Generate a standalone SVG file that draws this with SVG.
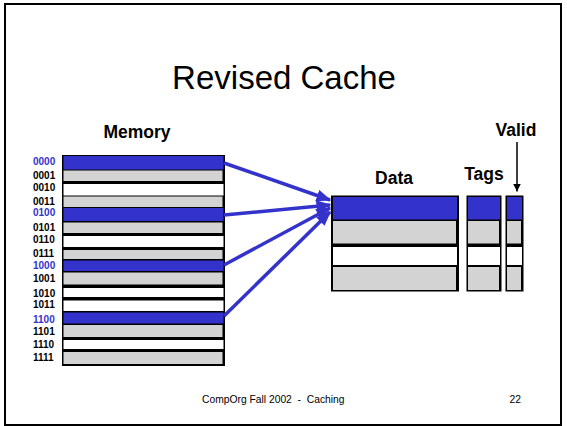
<svg xmlns="http://www.w3.org/2000/svg" width="567" height="426" viewBox="0 0 567 426">
<style>
.t{font-family:"Liberation Sans",Arial,sans-serif;fill:#000}
.lbl{font-family:"Liberation Sans",Arial,sans-serif;font-weight:bold;font-size:10px;fill:#000}
.lb{fill:#3333cc}
.hd{font-family:"Liberation Sans",Arial,sans-serif;font-weight:bold;font-size:17.5px;text-anchor:middle}
.bl{fill:#3333cc}.gr{fill:#d3d3d3}.wh{fill:#fff}
.arr{stroke:#3333cc;stroke-width:3.5;fill:none;marker-end:url(#ah)}
</style>
<defs>
<marker id="ah" viewBox="0 0 10 8" refX="9" refY="4" markerWidth="4.3" markerHeight="3.6" orient="auto"><path d="M0,0 L10,4 L0,8 z" fill="#3333cc"/></marker>
<marker id="ak" viewBox="0 0 10 10" refX="10" refY="5" markerWidth="8" markerHeight="8" markerUnits="userSpaceOnUse" orient="auto"><path d="M0,0 L10,5 L0,10 z" fill="#000"/></marker>
</defs>
<rect width="567" height="426" fill="#fff"/>
<rect x="5" y="4" width="556" height="421" fill="none" stroke="#000" stroke-width="2"/>
<text class="t" x="284" y="89" font-size="33" text-anchor="middle">Revised Cache</text>
<g id="memory">
<text class="hd" x="137" y="138">Memory</text>
<rect x="62" y="155" width="163" height="211" fill="#000"/>
<rect class="bl" x="63.5" y="156" width="160" height="13.5"/>
<rect class="gr" x="63.5" y="170.5" width="159" height="10.5"/>
<rect class="wh" x="63.5" y="184" width="160" height="11.5"/>
<rect class="gr" x="63.5" y="196.5" width="159" height="10.5"/>
<rect class="bl" x="63.5" y="208" width="160" height="13"/>
<rect class="gr" x="63.5" y="222.5" width="159" height="10.5"/>
<rect class="wh" x="63.5" y="236" width="160" height="11"/>
<rect class="gr" x="63.5" y="250" width="159" height="9"/>
<rect class="bl" x="63.5" y="260.5" width="160" height="10.5"/>
<rect class="gr" x="63.5" y="272.5" width="159" height="12"/>
<rect class="wh" x="63.5" y="288" width="160" height="9"/>
<rect class="wh" x="63.5" y="300.5" width="160" height="10.5"/>
<rect class="bl" x="63.5" y="312.5" width="160" height="11"/>
<rect class="gr" x="63.5" y="325" width="159" height="12"/>
<rect class="wh" x="63.5" y="340" width="160" height="9"/>
<rect class="gr" x="63.5" y="352" width="159" height="12"/>
<text class="lbl lb" x="33" y="164.8">0000</text>
<text class="lbl" x="33" y="178.5">0001</text>
<text class="lbl" x="33" y="190.5">0010</text>
<text class="lbl" x="33" y="204.5">0011</text>
<text class="lbl lb" x="33" y="216.2">0100</text>
<text class="lbl" x="33" y="230.5">0101</text>
<text class="lbl" x="33" y="242.5">0110</text>
<text class="lbl" x="33" y="256.5">0111</text>
<text class="lbl lb" x="33" y="268.8">1000</text>
<text class="lbl" x="33" y="281.8">1001</text>
<text class="lbl" x="33" y="296.5">1010</text>
<text class="lbl" x="33" y="308.2">1011</text>
<text class="lbl lb" x="33" y="322.5">1100</text>
<text class="lbl" x="33" y="334.8">1101</text>
<text class="lbl" x="33" y="348.2">1110</text>
<text class="lbl" x="33" y="360.5">1111</text>
</g>
<g id="data">
<text class="hd" x="394" y="183.5">Data</text>
<rect x="331" y="195.5" width="128" height="96" fill="#000"/>
<rect class="bl" x="333" y="197" width="124" height="22.5"/>
<rect class="gr" x="333" y="221" width="123" height="22.5"/>
<rect class="wh" x="333" y="247" width="124" height="18"/>
<rect class="gr" x="333" y="267" width="123" height="23"/>
</g>
<g id="tags">
<text class="hd" x="484" y="179.5">Tags</text>
<rect x="466.5" y="195.5" width="35" height="96" fill="#000"/>
<rect class="bl" x="468" y="197" width="32" height="22.5"/>
<rect class="gr" x="468" y="221" width="31" height="22.5"/>
<rect class="wh" x="468" y="247" width="32" height="18"/>
<rect class="gr" x="468" y="267" width="31" height="23"/>
</g>
<g id="valid">
<text class="hd" x="516" y="136">Valid</text>
<rect x="505.5" y="195.5" width="18" height="96" fill="#000"/>
<rect class="bl" x="507" y="197" width="15" height="22.5"/>
<rect class="gr" x="507" y="221" width="14" height="22.5"/>
<rect class="wh" x="507" y="247" width="15" height="18"/>
<rect class="gr" x="507" y="267" width="14" height="23"/>
</g>
<g id="connectors">
<line class="arr" x1="224" y1="163" x2="330" y2="200"/>
<line class="arr" x1="224" y1="215" x2="330" y2="205"/>
<line class="arr" x1="224" y1="265" x2="330" y2="208"/>
<line class="arr" x1="224" y1="316" x2="330" y2="212"/>
<line x1="517" y1="142" x2="517" y2="191.5" stroke="#000" stroke-width="1.5" marker-end="url(#ak)"/>
</g>
<text class="t" x="202" y="402.7" font-size="10.3" xml:space="preserve">CompOrg Fall 2002  -  Caching</text>
<text class="t" x="521" y="402.7" font-size="10.3" text-anchor="end">22</text>
</svg>
